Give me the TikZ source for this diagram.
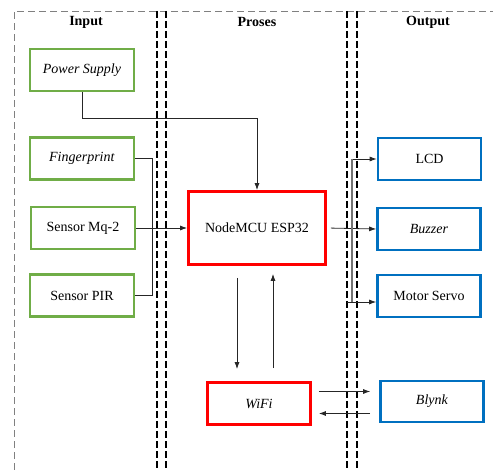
\documentclass[tikz,border=0pt]{standalone}
\usepackage{fontspec}
\setmainfont{Liberation Serif}
\usetikzlibrary{arrows.meta}
\definecolor{ingreen}{RGB}{112,173,71}
\definecolor{outblue}{RGB}{0,112,192}
\begin{document}
\begin{tikzpicture}[x=1pt,y=-1pt,
		font=\fontsize{14}{16}\selectfont,
		>={Latex[length=7pt,width=5pt]},
		inbox/.style={draw=ingreen,line width=2.6pt,minimum width=104pt,minimum height=42pt},
		outbox/.style={draw=outblue,line width=2.6pt,minimum width=103pt,minimum height=42pt},
		procbox/.style={draw=red,line width=2.8pt},
		lane/.style={draw=black,line width=1.6pt,dash pattern=on 7pt off 3pt},
		wire/.style={draw=black!85,line width=0.8pt}]
		\useasboundingbox (0,0) rectangle (493,470);

		% Frame and lanes
		\draw[gray,line width=0.8pt,dash pattern=on 7pt off 4pt] (14,470) -- (14,11) -- (493,11);
		\draw[lane] (157,11) -- (157,470);
		\draw[lane] (166,11) -- (166,470);
		\draw[lane] (347,11) -- (347,470);
		\draw[lane] (357,11) -- (357,470);

		% Headings
		\node[font=\fontsize{14}{16}\selectfont\bfseries] (hin) at (86,22) {Input};
		\node[font=\fontsize{14}{16}\selectfont\bfseries] (hproc) at (257,22) {Proses};
		\node[font=\fontsize{14}{16}\selectfont\bfseries] (hout) at (428,22) {Output};

		% Input
		\node[inbox] (psu) at (82,70) {\textit{Power Supply}};
		\node[inbox] (finger) at (82,158.5) {\textit{Fingerprint}};
		\node[inbox] (mq2) at (83,228) {Sensor Mq-2};
		\node[inbox] (pir) at (82,295.5) {Sensor PIR};

		% Proses
		\node[procbox,minimum width=137pt,minimum height=73pt] (esp) at (257,228) {NodeMCU ESP32};
		\node[procbox,minimum width=103pt,minimum height=42pt] (wifi) at (259,403.5) {\textit{WiFi}};

		% Output
		\node[outbox] (lcd) at (429.5,159) {LCD};
		\node[outbox] (buzzer) at (429,229) {\textit{Buzzer}};
		\node[outbox] (servo) at (429,296) {Motor Servo};
		\node[outbox,minimum height=41pt] (blynk) at (432,401.5) {\textit{Blynk}};

		% Connectors
		\coordinate (pwrbend) at (257,118);
		\draw[wire,->] (psu.south) |- (pwrbend) -- (esp.north);
		\draw[wire] (finger.east) -- ++(17,0) |- (pir.east);
		\draw[wire,->] (mq2.east) -- (esp.west);
		\draw[wire,->,shorten <=4pt] (esp.east) -- (buzzer.west);

		\coordinate (bustop) at (352,159);
		\coordinate (busbot) at (347,302);
		\draw[wire,->] (bustop) -- (lcd.west);
		\draw[black!55,line width=1.4pt] (bustop) -- (bustop |- busbot);
		\draw[wire,->] (busbot) -- (busbot -| servo.west);

		\draw[wire,->,shorten <=12pt,shorten >=12pt] ([xshift=-20pt]esp.south) -- ([xshift=-20pt]esp.south |- wifi.north);
		\draw[wire,->,shorten <=13pt,shorten >=8pt] ([xshift=16pt]esp.south |- wifi.north) -- ([xshift=16pt]esp.south);
		\draw[wire,->,shorten <=7pt,shorten >=9pt] ([yshift=12pt]wifi.east) -- ([yshift=12pt]wifi.east -| blynk.west);
		\draw[wire,->,shorten <=9pt,shorten >=7pt] ([yshift=-10pt]wifi.east -| blynk.west) -- ([yshift=-10pt]wifi.east);
\end{tikzpicture}
\end{document}
